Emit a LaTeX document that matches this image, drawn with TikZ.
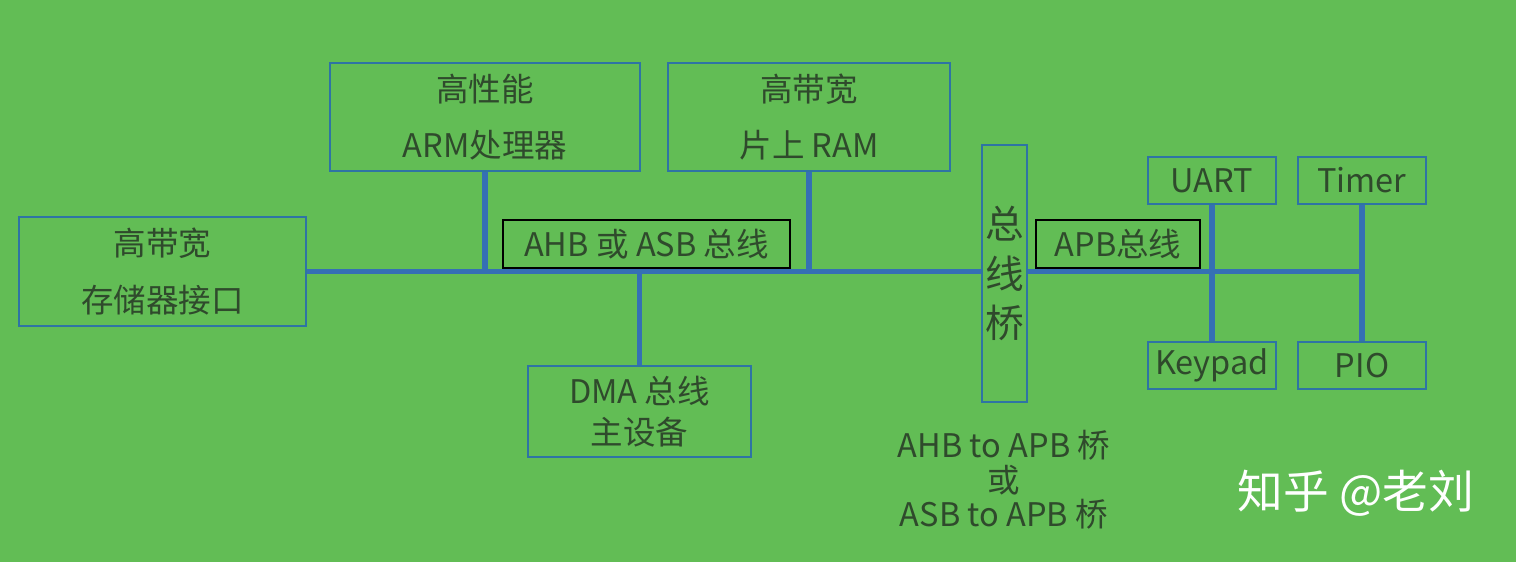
\documentclass[tikz,border=0pt]{standalone}
\usepackage{fontspec}
\setmainfont{Noto Sans CJK SC}
\usepackage{tikz}

\definecolor{bg}{HTML}{62BD55}
\definecolor{boxline}{HTML}{2E74A4}
\definecolor{busline}{HTML}{3570B4}
\definecolor{ink}{HTML}{2F4A2C}

\begin{document}
\begin{tikzpicture}[auto,
    unit/.style={draw=boxline,line width=1.3pt,inner sep=0pt,align=center,text=ink,
      font=\fontsize{18.5}{32}\selectfont},
    small/.style={unit,minimum width=2.56cm,minimum height=0.94cm},
    buslabel/.style={draw=black,line width=1.6pt,inner sep=0pt,text=ink,
      minimum height=0.96cm,font=\fontsize{18.5}{22}\selectfont},
    bus/.style={draw=busline,line width=3.3pt}]
        \fill[bg] (0,0) rectangle (30.32,11.24);
        \useasboundingbox (0,0) rectangle (30.32,11.24);
        \node[unit,minimum width=5.74cm,minimum height=2.18cm] (mem) at (3.25,5.81) {高带宽\\存储器接口};
        \node[unit,minimum width=6.20cm,minimum height=2.16cm] (arm) at (9.70,8.90) {高性能\\ARM处理器};
        \node[unit,minimum width=5.64cm,minimum height=2.16cm] (ram) at (16.18,8.90) {高带宽\\片上 RAM};
        \node[unit,minimum width=4.46cm,minimum height=1.82cm,
          font=\fontsize{18.5}{23}\selectfont] (dma) at (12.79,3.01) {DMA 总线\\主设备};
        \node[unit,minimum width=0.90cm,minimum height=5.14cm,
          font=\fontsize{22}{28}\selectfont] (bridge) at (20.09,5.77) {总\\线\\桥};
        \node[small] (uart) at (24.24,7.63) {UART};
        \node[small] (timer) at (27.24,7.63) {Timer};
        \node[small] (keypad) at (24.24,3.93) {Keypad};
        \node[small] (pio) at (27.24,3.93) {PIO};
        \node[align=center,text=ink,font=\fontsize{18.5}{19.5}\selectfont] (note) at (20.08,1.64)
          {AHB to APB 桥\\或\\ASB to APB 桥};
        \node[text=white,font=\fontsize{26}{30}\selectfont] (mark) at (27.12,1.38) {知乎 @老刘};
        \path[bus]
          (mem.east) edge (mem.east -| bridge.west)
          (arm.south) edge (arm.south |- mem.east)
          (ram.south) edge (ram.south |- mem.east)
          (dma.north) edge (dma.north |- mem.east)
          (bridge.east |- mem.east) edge (timer.south |- mem.east)
          (uart) edge (keypad)
          (timer) edge (pio)
          ;
        \node[buslabel,minimum width=5.74cm,fill=bg] (ahb) at (12.93,6.36) {AHB 或 ASB 总线};
        \node[buslabel,minimum width=3.28cm,fill=bg] (apb) at (22.36,6.36) {APB总线};
      \end{tikzpicture}
\end{document}
